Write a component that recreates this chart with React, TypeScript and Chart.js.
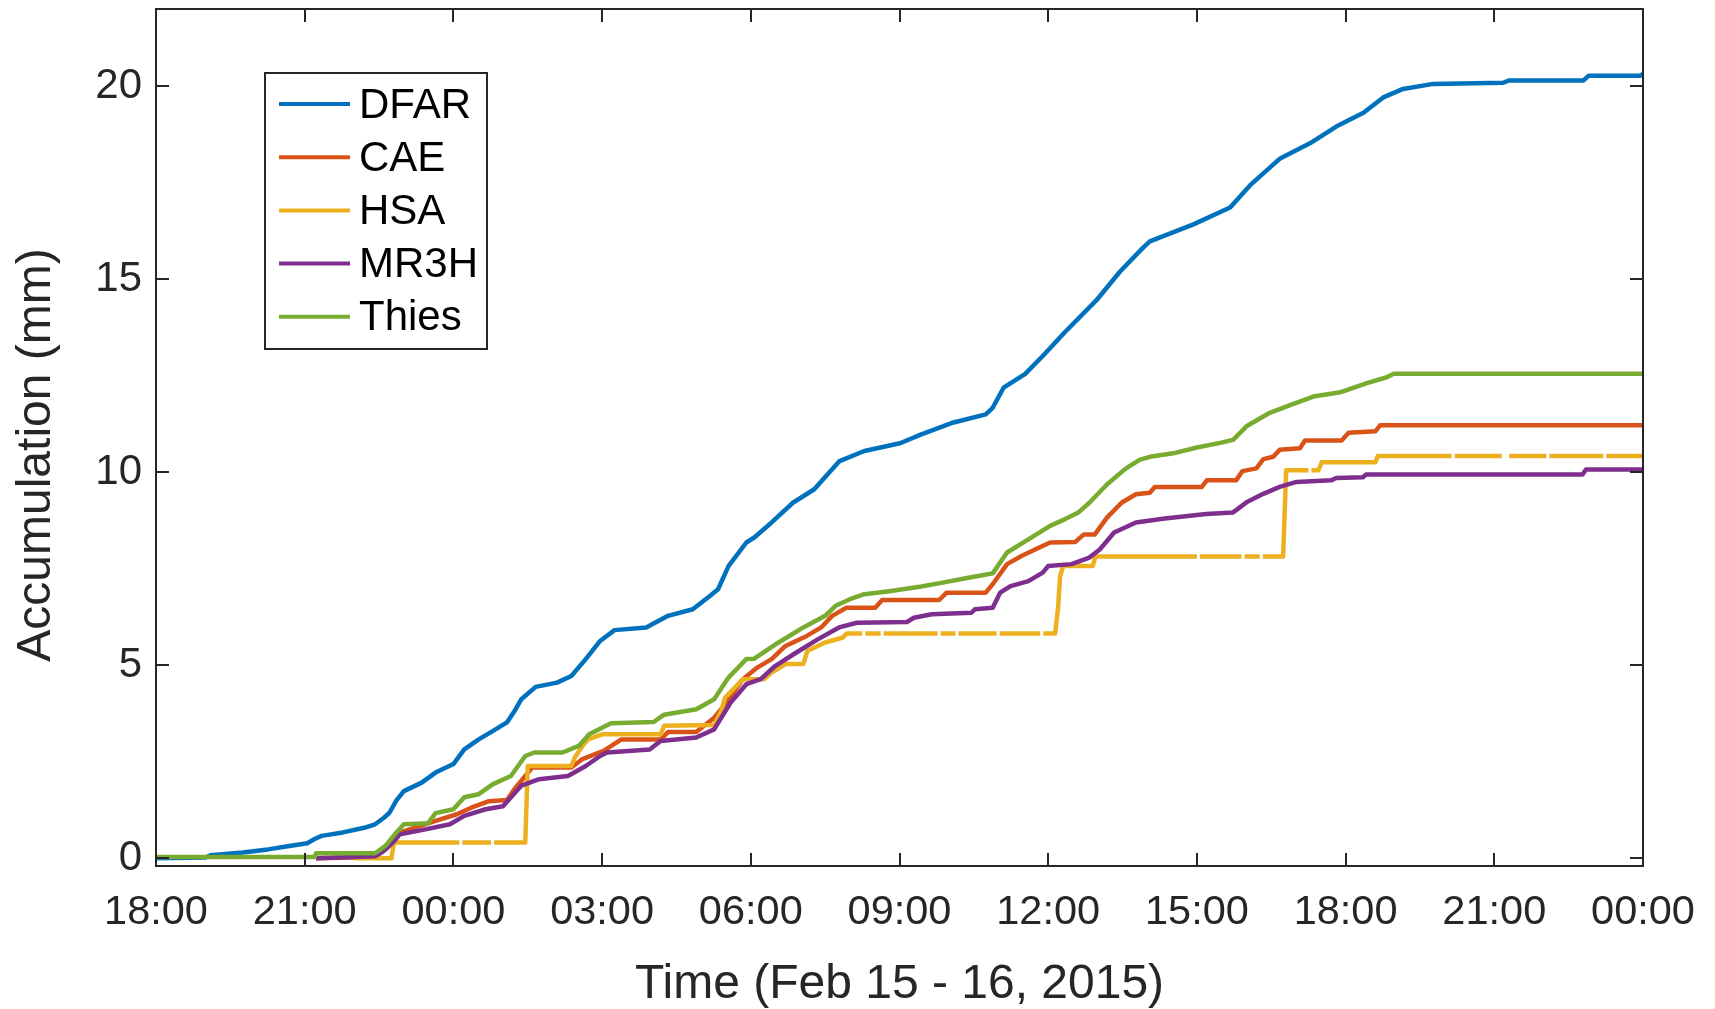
import React, { useEffect, useRef } from "react";
import { Chart, registerables } from "chart.js";

Chart.register(...registerables);

// Hours are counted from 18:00 on Feb 15, 2015; values are accumulation in mm.
const seriesNames = ["DFAR", "CAE", "HSA", "MR3H", "Thies"];
const seriesColors = ["#0072BD", "#D95319", "#EDB120", "#7E2F8E", "#77AC30"];

const hourTicks = [0, 3, 6, 9, 12, 15, 18, 21, 24, 27, 30];
const hourTickLabels = ["18:00", "21:00", "00:00", "03:00", "06:00", "09:00", "12:00", "15:00", "18:00", "21:00", "00:00"];
const mmTicks = [0, 5, 10, 15, 20];

const dfarHours = [0, 1.0, 1.1, 1.75, 2.26, 2.69, 3.05, 3.2, 3.34, 3.77, 4.2, 4.42, 4.6, 4.71, 4.85, 5.0, 5.36, 5.64, 6.0, 6.22, 6.51, 6.8, 7.08, 7.25, 7.37, 7.66, 8.09, 8.38, 8.67, 8.96, 9.25, 9.89, 10.33, 10.83, 11.18, 11.34, 11.55, 11.91, 12.07, 12.42, 12.85, 13.28, 13.79, 14.29, 15.01, 15.44, 16.09, 16.74, 16.88, 17.1, 17.53, 17.89, 18.33, 18.97, 19.45, 19.9, 20.05, 20.93, 21.67, 22.07, 22.68, 23.28, 23.82, 24.36, 24.76, 25.16, 25.77, 27.18, 27.3, 28.8, 28.9, 29.95, 30];
const dfarMm = [0, 0.02, 0.08, 0.15, 0.23, 0.32, 0.39, 0.5, 0.58, 0.67, 0.79, 0.88, 1.05, 1.18, 1.5, 1.74, 1.96, 2.22, 2.44, 2.82, 3.08, 3.3, 3.52, 3.85, 4.12, 4.44, 4.55, 4.72, 5.16, 5.63, 5.91, 5.98, 6.28, 6.45, 6.8, 6.97, 7.57, 8.18, 8.31, 8.7, 9.21, 9.56, 10.29, 10.55, 10.75, 10.98, 11.29, 11.5, 11.67, 12.19, 12.54, 13.01, 13.62, 14.45, 15.2, 15.8, 15.98, 16.42, 16.86, 17.43, 18.13, 18.52, 18.96, 19.31, 19.71, 19.93, 20.06, 20.09, 20.15, 20.15, 20.27, 20.27, 20.32];

const caeHours = [3.23, 4.42, 4.6, 4.78, 4.93, 5.21, 5.64, 6.07, 6.36, 6.72, 7.08, 7.23, 7.45, 7.59, 8.38, 8.59, 9.03, 9.39, 10.18, 10.33, 10.9, 11.26, 11.51, 11.84, 12.13, 12.42, 12.7, 13.13, 13.42, 13.64, 13.93, 14.51, 14.65, 15.8, 15.95, 16.74, 16.88, 17.17, 17.46, 17.82, 18.04, 18.54, 18.72, 18.94, 19.19, 19.48, 19.77, 20.05, 20.15, 21.1, 21.2, 21.79, 21.92, 22.2, 22.34, 22.54, 22.67, 23.08, 23.18, 23.92, 24.06, 24.6, 24.7, 30];
const caeMm = [0, 0.03, 0.2, 0.41, 0.67, 0.79, 0.97, 1.14, 1.31, 1.48, 1.51, 1.79, 2.13, 2.35, 2.35, 2.56, 2.78, 3.08, 3.08, 3.27, 3.27, 3.64, 4.03, 4.64, 4.94, 5.16, 5.5, 5.76, 5.98, 6.28, 6.49, 6.49, 6.69, 6.69, 6.88, 6.88, 7.1, 7.62, 7.83, 8.05, 8.18, 8.19, 8.39, 8.39, 8.83, 9.21, 9.43, 9.47, 9.62, 9.62, 9.79, 9.79, 10.03, 10.1, 10.34, 10.4, 10.58, 10.62, 10.82, 10.82, 11.02, 11.06, 11.22, 11.22];

// HSA has missing samples (null) that leave short breaks in its trace.
const hsaHours = [3.99, 4.75, 4.8, 6.12, 6.15, 6.18, 6.76, 6.79, 6.82, 7.45, 7.5, 8.38, 8.45, 8.6, 8.72, 9.0, 10.18, 10.25, 11.26, 11.4, 11.48, 11.84, 12.27, 12.42, 12.7, 13.06, 13.14, 13.5, 13.86, 13.93, 14.25, 14.28, 14.31, 14.62, 14.65, 14.68, 15.77, 15.8, 15.83, 16.13, 16.16, 16.19, 16.96, 16.99, 17.02, 17.84, 17.87, 17.9, 18.14, 18.2, 18.24, 18.3, 18.9, 18.95, 21.0, 21.03, 21.06, 21.9, 21.93, 21.96, 22.27, 22.3, 22.33, 22.74, 22.8, 23.25, 23.28, 23.31, 23.45, 23.52, 24.6, 24.65, 26.14, 26.17, 26.2, 27.15, 27.18, 27.22, 27.26, 27.3, 28.05, 28.08, 28.11, 29.2, 29.23, 29.26, 30];
const hsaMm = [0, 0, 0.41, 0.41, null, 0.41, 0.41, null, 0.41, 0.41, 2.39, 2.39, 2.61, 2.9, 3.08, 3.21, 3.21, 3.43, 3.45, 3.8, 4.16, 4.64, 4.64, 4.81, 5.03, 5.03, 5.37, 5.59, 5.72, 5.82, 5.82, null, 5.82, 5.82, null, 5.82, 5.82, null, 5.82, 5.82, null, 5.82, 5.82, null, 5.82, 5.82, null, 5.82, 5.82, 6.5, 7.3, 7.57, 7.57, 7.82, 7.82, null, 7.82, 7.82, null, 7.82, 7.82, null, 7.82, 7.82, 10.05, 10.05, null, 10.05, 10.05, 10.26, 10.26, 10.42, 10.42, null, 10.42, 10.42, null, 10.42, null, 10.42, 10.42, null, 10.42, 10.42, null, 10.42, 10.42];

const mr3hHours = [3.23, 4.42, 4.6, 4.78, 4.92, 5.36, 5.93, 6.22, 6.65, 7.0, 7.37, 7.73, 8.31, 8.67, 8.96, 9.1, 9.96, 10.18, 10.9, 11.26, 11.59, 11.91, 12.2, 12.49, 12.92, 13.35, 13.78, 14.14, 15.15, 15.29, 15.65, 16.45, 16.52, 16.88, 17.03, 17.24, 17.6, 17.89, 18.0, 18.47, 18.83, 19.04, 19.33, 19.77, 20.35, 21.19, 21.73, 22.0, 22.34, 22.67, 23.01, 23.71, 23.81, 24.35, 24.41, 28.78, 28.85, 30];
const mr3hMm = [0, 0.05, 0.2, 0.41, 0.62, 0.73, 0.88, 1.1, 1.27, 1.35, 1.88, 2.05, 2.13, 2.39, 2.65, 2.74, 2.82, 3.04, 3.13, 3.34, 4.03, 4.51, 4.64, 4.98, 5.33, 5.67, 5.98, 6.1, 6.12, 6.23, 6.32, 6.36, 6.45, 6.49, 6.88, 7.05, 7.18, 7.4, 7.57, 7.62, 7.79, 8.0, 8.44, 8.7, 8.8, 8.92, 8.96, 9.22, 9.44, 9.62, 9.75, 9.79, 9.85, 9.87, 9.94, 9.94, 10.07, 10.07];

const thiesHours = [0, 3.2, 3.23, 4.42, 4.63, 4.85, 5.0, 5.49, 5.64, 6.0, 6.22, 6.51, 6.8, 7.16, 7.45, 7.63, 8.2, 8.53, 8.74, 9.18, 10.04, 10.25, 10.9, 11.26, 11.55, 11.91, 12.07, 12.56, 13.06, 13.5, 13.71, 14.0, 14.29, 14.79, 15.44, 15.87, 16.23, 16.67, 16.88, 17.17, 17.6, 18.04, 18.33, 18.61, 18.83, 19.19, 19.55, 19.84, 20.05, 20.52, 21.0, 21.47, 21.73, 22.0, 22.47, 22.88, 23.35, 23.89, 24.43, 24.83, 24.97, 30];
const thiesMm = [0.03, 0.03, 0.13, 0.13, 0.32, 0.67, 0.88, 0.91, 1.17, 1.27, 1.58, 1.66, 1.92, 2.13, 2.65, 2.74, 2.74, 2.91, 3.21, 3.5, 3.53, 3.72, 3.86, 4.12, 4.68, 5.16, 5.17, 5.59, 5.98, 6.28, 6.54, 6.71, 6.84, 6.92, 7.04, 7.14, 7.23, 7.33, 7.38, 7.92, 8.26, 8.61, 8.78, 8.96, 9.21, 9.69, 10.08, 10.32, 10.4, 10.49, 10.64, 10.76, 10.84, 11.19, 11.54, 11.74, 11.96, 12.07, 12.31, 12.46, 12.55, 12.55];

const seriesHours = [dfarHours, caeHours, hsaHours, mr3hHours, thiesHours];
const seriesMm = [dfarMm, caeMm, hsaMm, mr3hMm, thiesMm];

const FONT = "'Liberation Sans', Arial, Helvetica, sans-serif";
const AXIS_COLOR = "#262626";
const TICK_LEN = 13;

const framePlugin = {
  id: "matlabFrame",
  afterDraw(chart: any) {
    const { ctx, chartArea: a, scales } = chart;
    ctx.save();
    ctx.strokeStyle = AXIS_COLOR;
    ctx.lineWidth = 2;
    ctx.beginPath();
    for (const h of hourTicks) {
      const x = Math.round(scales.x.getPixelForValue(h));
      ctx.moveTo(x, a.bottom);
      ctx.lineTo(x, a.bottom - TICK_LEN);
      ctx.moveTo(x, a.top);
      ctx.lineTo(x, a.top + TICK_LEN);
    }
    for (const v of mmTicks) {
      const y = Math.round(scales.y.getPixelForValue(v));
      ctx.moveTo(a.left, y);
      ctx.lineTo(a.left + TICK_LEN, y);
      ctx.moveTo(a.right, y);
      ctx.lineTo(a.right - TICK_LEN, y);
    }
    ctx.stroke();
    ctx.strokeRect(a.left, a.top, a.right - a.left, a.bottom - a.top);

    // y-axis title
    ctx.fillStyle = AXIS_COLOR;
    ctx.font = `48px ${FONT}`;
    ctx.textAlign = "center";
    ctx.textBaseline = "middle";
    ctx.translate(37, 455);
    ctx.rotate(-Math.PI / 2);
    ctx.fillText("Accumulation (mm)", 0, 0);
    ctx.setTransform(1, 0, 0, 1, 0, 0);

    // legend
    const box = { left: 265, top: 73, width: 222, height: 276 };
    ctx.fillStyle = "#ffffff";
    ctx.fillRect(box.left, box.top, box.width, box.height);
    ctx.strokeStyle = AXIS_COLOR;
    ctx.lineWidth = 2;
    ctx.strokeRect(box.left, box.top, box.width, box.height);
    ctx.font = `42px ${FONT}`;
    ctx.textAlign = "left";
    ctx.textBaseline = "middle";
    chart.data.datasets.forEach((ds: any, i: number) => {
      const y = 104 + i * 53.2;
      ctx.strokeStyle = ds.borderColor;
      ctx.lineWidth = 4;
      ctx.beginPath();
      ctx.moveTo(279, y);
      ctx.lineTo(350, y);
      ctx.stroke();
      ctx.fillStyle = "#000000";
      ctx.fillText(ds.label, 359, y + 2);
    });
    ctx.restore();
  },
};

export default function App() {
  const canvasRef = useRef<HTMLCanvasElement | null>(null);

  useEffect(() => {
    if (!canvasRef.current) return;
    const datasets = seriesNames.map((name, i) => ({
      label: name,
      data: seriesHours[i].map((h, j) => ({ x: h, y: seriesMm[i][j] })),
      borderColor: seriesColors[i],
      backgroundColor: seriesColors[i],
      borderWidth: 4.5,
      pointRadius: 0,
      pointHoverRadius: 0,
      tension: 0,
      spanGaps: false,
      borderCapStyle: "butt" as const,
      borderJoinStyle: "round" as const,
      fill: false,
      // later series are painted above earlier ones
      order: seriesNames.length - i,
    }));

    const chart = new Chart(canvasRef.current, {
      type: "line",
      data: { datasets },
      plugins: [framePlugin],
      options: {
        animation: false,
        responsive: false,
        devicePixelRatio: 1,
        events: [],
        layout: { padding: { top: 9, right: 72, left: 0, bottom: 0 } },
        plugins: {
          legend: { display: false },
          tooltip: { enabled: false },
          title: { display: false },
        },
        scales: {
          x: {
            type: "linear",
            min: 0,
            max: 30,
            grid: { display: false, drawTicks: false },
            border: { display: false },
            afterBuildTicks: (scale: any) => {
              scale.ticks = hourTicks.map((v) => ({ value: v }));
            },
            afterFit: (scale: any) => {
              scale.height = 143;
              scale.paddingLeft = 0;
              scale.paddingRight = 0;
            },
            ticks: {
              autoSkip: false,
              maxRotation: 0,
              minRotation: 0,
              padding: 22,
              color: AXIS_COLOR,
              font: { family: FONT, size: 41.5 },
              callback: (value: any) => hourTickLabels[hourTicks.indexOf(Number(value))] ?? "",
            },
            title: {
              display: true,
              text: "Time (Feb 15 - 16, 2015)",
              color: AXIS_COLOR,
              font: { family: FONT, size: 48, lineHeight: 1 },
              padding: { top: 0, bottom: 0 },
            },
          },
          y: {
            type: "linear",
            min: -0.2,
            max: 22,
            grid: { display: false, drawTicks: false },
            border: { display: false },
            afterBuildTicks: (scale: any) => {
              scale.ticks = mmTicks.map((v) => ({ value: v }));
            },
            afterFit: (scale: any) => {
              scale.width = 156;
              scale.paddingTop = 0;
              scale.paddingBottom = 0;
            },
            ticks: {
              padding: 14,
              color: AXIS_COLOR,
              font: { family: FONT, size: 42 },
              callback: (value: any) => String(value),
            },
          },
        },
      },
    });
    return () => chart.destroy();
  }, []);

  return (
    <div style={{ position: "absolute", left: 0, top: 0, width: 1715, height: 1009, background: "#ffffff" }}>
      <canvas ref={canvasRef} width={1715} height={1009} style={{ display: "block", width: 1715, height: 1009 }} />
    </div>
  );
}
